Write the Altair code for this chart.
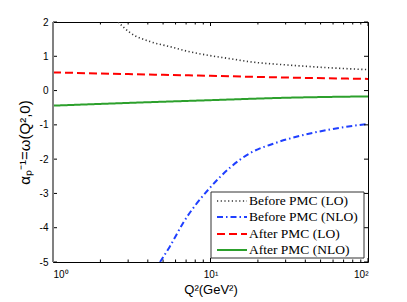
import altair as alt
import pandas as pd

# ---- data ----
SERIES = ["Before PMC (LO)", "Before PMC (NLO)", "After PMC (LO)", "After PMC (NLO)"]
COLORS = ["#333333", "#1f3fff", "#ff0000", "#2ca02c"]
DASHES = [[1.2, 2.5], [6, 3, 1.5, 3], [8, 4], [1, 0]]
WIDTHS = [1.6, 2, 2, 2]

before_lo_q = [2.59, 3.08, 4.13, 5.53, 7.41, 9.93, 13.3, 17.8, 30, 50, 100]
before_lo_v = [2.0, 1.69, 1.43, 1.28, 1.13, 1.02, 0.93, 0.84, 0.75, 0.68, 0.61]

before_nlo_q = [4.78, 5.5, 6.7, 9.9, 17.9, 25, 37, 60, 100]
before_nlo_v = [-5.0, -4.56, -3.86, -2.84, -1.82, -1.55, -1.32, -1.12, -0.97]

after_lo_q = [1, 3, 10, 30, 100]
after_lo_v = [0.53, 0.48, 0.43, 0.38, 0.34]

after_nlo_q = [1, 3, 10, 30, 100]
after_nlo_v = [-0.44, -0.36, -0.28, -0.21, -0.17]

X_MAJOR = [1, 10, 100]
X_MINOR = [2, 3, 4, 5, 6, 7, 8, 9, 20, 30, 40, 50, 60, 70, 80, 90]
Y_TICKS = [-5, -4, -3, -2, -1, 0, 1, 2]

W, H = 315, 240

rows = []
for name, qs, vs in [
    (SERIES[0], before_lo_q, before_lo_v),
    (SERIES[1], before_nlo_q, before_nlo_v),
    (SERIES[2], after_lo_q, after_lo_v),
    (SERIES[3], after_nlo_q, after_nlo_v),
]:
    for q, v in zip(qs, vs):
        rows.append({"series": name, "q": q, "v": v})
df = pd.DataFrame(rows)

xenc = alt.X(
    "q:Q",
    scale=alt.Scale(type="log", domain=[1, 100], nice=False),
    axis=alt.Axis(
        values=X_MAJOR,
        labelExpr="datum.value == 1 ? '10⁰' : datum.value == 10 ? '10¹' : '10²'",
        ticks=False, domain=False, grid=False,
        title="Q²(GeV²)", labelPadding=7, titlePadding=4,
    ),
)
yenc = alt.Y(
    "v:Q",
    scale=alt.Scale(domain=[-5, 2], nice=False, zero=False),
    axis=alt.Axis(
        values=Y_TICKS, labelExpr="datum.value + ''",
        ticks=False, domain=False, grid=False,
        title="αₚ⁻¹=ω(Q²,0)", labelPadding=5, titlePadding=7, titleFontSize=15,
    ),
)

layers = []
for i, name in enumerate(SERIES):
    layers.append(
        alt.Chart(df[df.series == name]).mark_line(
            clip=True, color=COLORS[i], strokeDash=DASHES[i],
            strokeWidth=WIDTHS[i], interpolate="monotone",
        ).encode(x=xenc, y=yenc)
    )

# inner ticks
xmaj = pd.DataFrame({"q": X_MAJOR})
xmin = pd.DataFrame({"q": X_MINOR})
ydf = pd.DataFrame({"v": Y_TICKS})
tick = dict(color="black", strokeWidth=1)
layers += [
    alt.Chart(xmaj).mark_rule(**tick).encode(x=xenc, y=alt.value(H), y2=alt.value(H - 4)),
    alt.Chart(xmaj).mark_rule(**tick).encode(x=xenc, y=alt.value(0), y2=alt.value(4)),
    alt.Chart(xmin).mark_rule(**tick).encode(x=xenc, y=alt.value(H), y2=alt.value(H - 2.5)),
    alt.Chart(xmin).mark_rule(**tick).encode(x=xenc, y=alt.value(0), y2=alt.value(2.5)),
    alt.Chart(ydf).mark_rule(**tick).encode(y=yenc, x=alt.value(0), x2=alt.value(4)),
    alt.Chart(ydf).mark_rule(**tick).encode(y=yenc, x=alt.value(W), x2=alt.value(W - 4)),
]

one = pd.DataFrame({"a": [0]})
# grey left axis line
layers.append(
    alt.Chart(one).mark_rule(color="#808080", strokeWidth=2).encode(
        x=alt.value(0), y=alt.value(0), y2=alt.value(H)
    )
)

# legend box
LX0, LX1, LY0, LY1 = 158, 311, 170, 236
layers.append(
    alt.Chart(one).mark_rect(fill="white", stroke="#333333", strokeWidth=1).encode(
        x=alt.value(LX0), x2=alt.value(LX1), y=alt.value(LY0), y2=alt.value(LY1)
    )
)
ROW_Y = [179, 195, 212, 228]
for i, name in enumerate(SERIES):
    layers.append(
        alt.Chart(one).mark_rule(color=COLORS[i], strokeDash=DASHES[i], strokeWidth=WIDTHS[i]).encode(
            x=alt.value(164), x2=alt.value(194), y=alt.value(ROW_Y[i])
        )
    )
    layers.append(
        alt.Chart(one).mark_text(
            align="left", baseline="middle", font="Liberation Serif", fontSize=13.5, color="black"
        ).encode(x=alt.value(196), y=alt.value(ROW_Y[i]), text=alt.value(name))
    )

chart = alt.layer(*layers).properties(
    width=W, height=H,
    autosize=alt.AutoSizeParams(type="none"),
    padding={"left": 45, "top": 14, "right": 31, "bottom": 38},
).configure_view(stroke="black", strokeWidth=1).configure_axis(
    labelFont="Liberation Sans", labelFontSize=10, labelColor="black",
    titleFont="Liberation Sans", titleFontSize=13, titleFontWeight="normal", titleColor="black",
)

chart.save("out.html", embed_options={"renderer": "svg", "actions": False})
